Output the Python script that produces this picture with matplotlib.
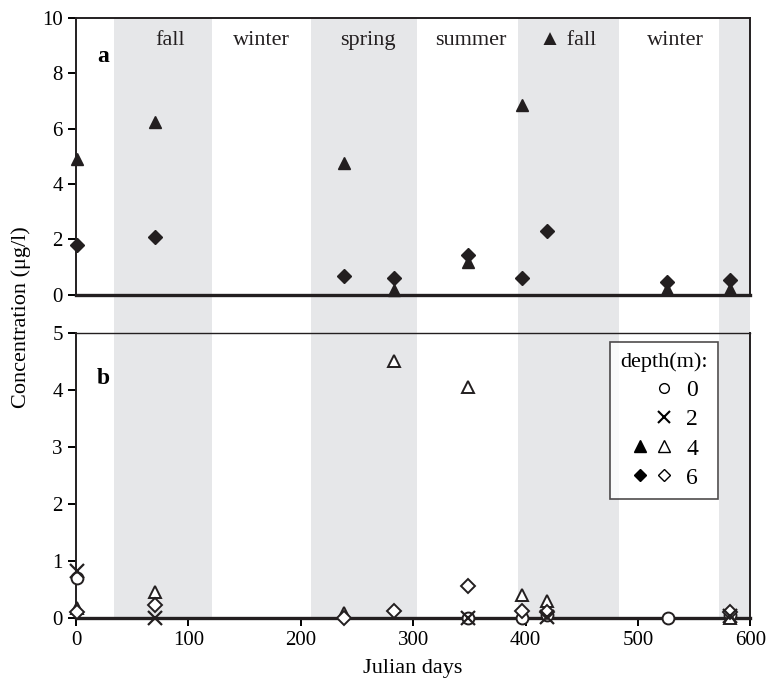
import matplotlib
matplotlib.use("Agg")
import matplotlib.pyplot as plt
from matplotlib.lines import Line2D
from matplotlib.legend_handler import HandlerTuple

plt.rcParams['font.family'] = ['Liberation Serif', 'DejaVu Sans']
plt.rcParams['mathtext.fontset'] = 'stix'

# seasons shading (julian days)
season_spans = [(34, 121), (209, 303), (393, 483), (572, 600)]
season_names = ["fall", "winter", "spring", "summer", "\u25b2 fall", "winter"]
season_pos = [84, 165, 260, 351, 437, 533]

# panel a: filled markers
a_tri_x = [1, 70, 238, 283, 349, 397, 526, 582]
a_tri_y = [4.9, 6.25, 4.75, 0.18, 1.2, 6.85, 0.22, 0.2]
a_dia_x = [1, 70, 238, 283, 349, 397, 419, 526, 582]
a_dia_y = [1.8, 2.1, 0.7, 0.62, 1.45, 0.62, 2.32, 0.48, 0.55]

# panel b: open markers
b_circ_x = [1, 349, 397, 419, 527, 582]
b_circ_y = [0.70, 0.0, 0.0, 0.05, 0.0, 0.05]
b_x_x = [1, 70, 349, 419, 582]
b_x_y = [0.82, 0.0, 0.0, 0.02, 0.03]
b_tri_x = [1, 70, 238, 283, 349, 397, 419, 582]
b_tri_y = [0.18, 0.46, 0.08, 4.5, 4.05, 0.40, 0.29, 0.0]
b_dia_x = [1, 70, 238, 283, 349, 397, 419, 582]
b_dia_y = [0.10, 0.23, 0.0, 0.13, 0.57, 0.13, 0.10, 0.10]

fig = plt.figure(figsize=(7.68, 6.89), dpi=100)
left, width = 0.099, 0.878
bg = fig.add_axes([left, 0.103, width, 0.871])
bg.set_xlim(0, 600)
bg.set_ylim(0, 1)
bg.axis('off')
for s, e in season_spans:
    bg.axvspan(s, e, color='#e6e7e9', lw=0)

ax_a = fig.add_axes([left, 0.572, width, 0.402])
ax_b = fig.add_axes([left, 0.103, width, 0.414])

for ax in (ax_a, ax_b):
    ax.set_facecolor('none')
    ax.set_xlim(0, 600)
    for sp in ax.spines.values():
        sp.set_linewidth(1.4)
        sp.set_color('#231f20')
    ax.spines['bottom'].set_linewidth(2.4)
    ax.tick_params(axis='y', direction='out', length=6, width=1.4, labelsize=15)
    ax.tick_params(axis='x', direction='out', length=6, width=1.4, labelsize=15)

ax_b.spines['top'].set_linewidth(1.0)

ax_a.set_ylim(0, 10)
ax_a.set_yticks([0, 2, 4, 6, 8, 10])
ax_a.set_xticks([])
ax_b.set_ylim(0, 5)
ax_b.set_yticks([0, 1, 2, 3, 4, 5])
ax_b.set_xticks([0, 100, 200, 300, 400, 500, 600])

ms = 9
ax_a.plot(a_tri_x, a_tri_y, '^', color='#231f20', ms=ms, clip_on=False, zorder=5)
ax_a.plot(a_dia_x, a_dia_y, 'D', color='#231f20', ms=ms * 0.8, clip_on=False, zorder=5)

ax_b.plot(b_circ_x, b_circ_y, 'o', mfc='white', mec='#231f20', mew=1.4, ms=ms * 0.95, clip_on=False, zorder=5)
ax_b.plot(b_x_x, b_x_y, 'x', color='#231f20', mew=1.6, ms=ms * 1.1, clip_on=False, zorder=6)
ax_b.plot(b_tri_x, b_tri_y, '^', mfc='white', mec='#231f20', mew=1.4, ms=ms, clip_on=False, zorder=5)
ax_b.plot(b_dia_x, b_dia_y, 'D', mfc='white', mec='#231f20', mew=1.4, ms=ms * 0.75, clip_on=False, zorder=5)

for name, xp in zip(season_names, season_pos):
    ax_a.text(xp, 9.2, name, ha='center', va='center', fontsize=16, color='#231f20',
              family=['Liberation Serif', 'DejaVu Sans'])

ax_a.text(24, 8.6, 'a', fontsize=17, fontweight='bold', ha='center', va='center')
ax_b.text(24, 4.2, 'b', fontsize=17, fontweight='bold', ha='center', va='center')

blank = Line2D([], [], linestyle='none', marker='')
h0 = (blank, Line2D([], [], linestyle='none', marker='o', mfc='white', mec='black', ms=7))
h2 = (blank, Line2D([], [], linestyle='none', marker='x', color='black', mew=1.5, ms=8))
h4 = (Line2D([], [], linestyle='none', marker='^', color='black', ms=8),
      Line2D([], [], linestyle='none', marker='^', mfc='white', mec='black', ms=8))
h6 = (Line2D([], [], linestyle='none', marker='D', color='black', ms=6),
      Line2D([], [], linestyle='none', marker='D', mfc='white', mec='black', ms=6))
leg = ax_b.legend([h0, h2, h4, h6], ['0', '2', '4', '6'],
                  handler_map={tuple: HandlerTuple(ndivide=None, pad=0.2)},
                  title='depth(m):', loc='upper right', bbox_to_anchor=(0.9525, 0.968),
                  borderaxespad=0.0,
                  fontsize=17, title_fontsize=16, frameon=True, fancybox=False,
                  edgecolor='#231f20', handlelength=1.9, handletextpad=0.5,
                  labelspacing=0.32, borderpad=0.45)
leg.get_frame().set_linewidth(1.2)

fig.text(0.028, 0.54, 'Concentration (\u03bcg/l)', rotation=90, ha='center', va='center', fontsize=16)
fig.text(0.538, 0.03, 'Julian days', ha='center', va='center', fontsize=16)

fig.savefig('out.png', dpi=100)
